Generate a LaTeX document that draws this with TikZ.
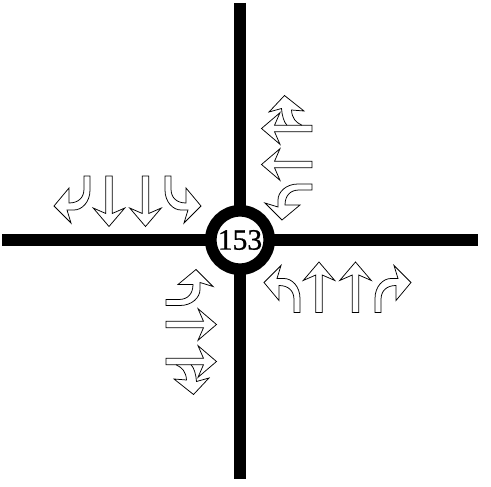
\documentclass[tikz,border=0pt]{standalone}
\usepackage{fontspec}
\setmainfont{Liberation Serif}
\newfontfamily\numfont[FakeBold=0.8]{Liberation Serif}
\tikzset{
  outl/.style={draw=black,line width=0.75pt,line join=miter,miter limit=6},
  road/.style={draw=black,line width=11.6pt},
  straightarr/.pic={
    \path[pic actions] (0,50.5) -- (15.8,32) -- (3.2,37.5) -- (3.2,0) -- (-3.2,0) -- (-3.2,37.5) -- (-15.8,32) -- cycle;
  },
  comboturn/.pic={
    \path[pic actions] (3.2,10) .. controls (6,16) and (10,20) .. (18.5,20.5)
      -- (17.5,8) -- (33,27.5) -- (16.5,43) -- (20,30.5)
      .. controls (13,30) and (6,28) .. (3.2,25);
  },
  leftarr/.pic={
    \path[pic actions] (-3,0) -- (-3,13) .. controls (-3,22) and (-9,27) .. (-18,27)
      -- (-18,12) -- (-33,30) -- (-16,47) -- (-20,34) -- (-13,34)
      .. controls (-5,34) and (3,26) .. (3,14) -- (3,0) -- cycle;
  },
  rightarr/.pic={
    \path[pic actions] (3,0) -- (3,13) .. controls (3,22) and (9,27) .. (18,27)
      -- (18,12) -- (33,30) -- (16,47) -- (20,34) -- (13,34)
      .. controls (5,34) and (-3,26) .. (-3,14) -- (-3,0) -- cycle;
  }
}
\begin{document}
\begin{tikzpicture}[x=1pt,y=1pt]
\useasboundingbox[fill=white] (0,0) rectangle (491,-487);
% roads
\draw[road] (240,-3) -- (240,-479);
\draw[road] (2,-240) -- (478,-240);
\node[circle,draw=black,fill=white,line width=11.7pt,minimum size=58.4pt,inner sep=0pt] (hub) at (240,-240) {};
\node[font=\numfont\fontsize{29.5}{29.5}\selectfont,inner sep=0pt] (num) at (hub.center) {153};
% south approach
\pic[outl] at (297,-312.5) {leftarr};
\pic[outl] at (319,-312.5) {straightarr};
\pic[outl] at (355.5,-312.5) {straightarr};
\pic[outl] at (378,-312.5) {rightarr};
% north approach
\pic[outl,rotate=180] at (87,-176) {rightarr};
\pic[outl,rotate=180] at (109,-176) {straightarr};
\pic[outl,rotate=180] at (145.5,-176) {straightarr};
\pic[outl,rotate=180] at (168,-176) {leftarr};
% east approach
\pic[outl,rotate=90] at (312,-128.5) {comboturn};
\pic[outl,rotate=90] at (312,-128.5) {straightarr};
\pic[outl,rotate=90] at (312,-164.5) {straightarr};
\pic[outl,rotate=90] at (312,-187) {leftarr};
% west approach
\pic[outl,rotate=-90] at (166,-302.5) {leftarr};
\pic[outl,rotate=-90] at (166,-324.5) {straightarr};
\pic[outl,rotate=-90] at (166,-361.5) {comboturn};
\pic[outl,rotate=-90] at (166,-361.5) {straightarr};
\end{tikzpicture}
\end{document}
